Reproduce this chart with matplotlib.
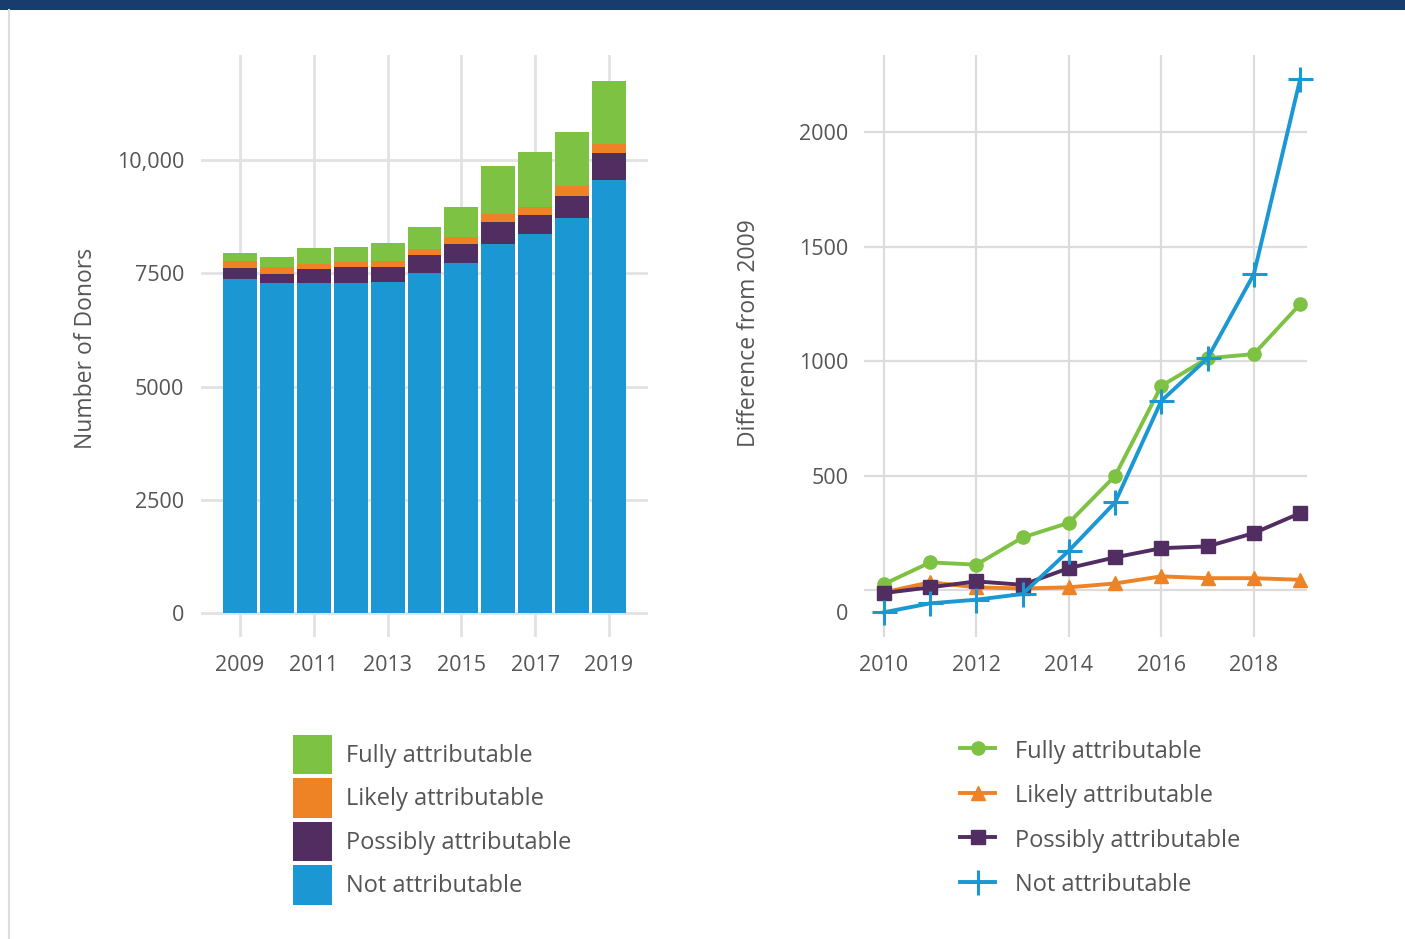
import numpy as np
import matplotlib
matplotlib.use('Agg')
import matplotlib.pyplot as plt
from matplotlib.patches import Patch, Rectangle
from matplotlib.lines import Line2D
from matplotlib.transforms import ScaledTranslation

plt.rcParams['font.family'] = ['Open Sans', 'DejaVu Sans']

# ---- data: left panel (stacked counts) ----
years = np.arange(2009, 2020)
not_attr = [7375, 7287, 7287, 7287, 7308, 7507, 7728, 8147, 8368, 8721, 9559]
possibly = [242, 198, 308, 353, 332, 397, 419, 485, 419, 485, 596]
likely = [155, 155, 118, 117, 132, 133, 155, 184, 177, 228, 205]
fully = [176, 220, 347, 324, 398, 486, 662, 1052, 1213, 1184, 1383]

# ---- data: right panel (difference from 2009) ----
years_diff = np.arange(2010, 2020)
fully_diff = [26, 121, 111, 230, 294, 499, 892, 1013, 1031, 1249]
likely_diff = [-10, 34, 12, 7, 12, 29, 60, 52, 52, 45]
possibly_diff = [-13, 12, 38, 23, 96, 143, 183, 191, 249, 336]
not_diff = [-97, -58, -42, -17, 172, 383, 827, 1013, 1380, 2231]

labels = ['Fully attributable', 'Likely attributable', 'Possibly attributable', 'Not attributable']
GREEN, ORANGE, PURPLE, BLUE = '#7DC242', '#EE8325', '#522D62', '#1B97D4'
GRID = '#e2e2e2'
TXT = '#555555'

fig = plt.figure(figsize=(14.05, 9.39), dpi=100)

# top banner + left rule
fig.patches.append(Rectangle((0, 1 - 10 / 939), 1, 10 / 939, transform=fig.transFigure,
                             facecolor='#173D6E', edgecolor='none'))
fig.lines.append(Line2D([8.5 / 1405, 8.5 / 1405], [0, 1 - 10 / 939], transform=fig.transFigure,
                        color='#dddddd', lw=1.5))

# ============= LEFT: stacked bars =============
ax1 = fig.add_axes([201 / 1405, 1 - 637 / 939, 447 / 1405, 582 / 939])
b = np.zeros(len(years))
for vals, col in [(not_attr, BLUE), (possibly, PURPLE), (likely, ORANGE), (fully, GREEN)]:
    ax1.bar(years, vals, bottom=b, width=0.92, color=col, zorder=3)
    b = b + np.array(vals)

ax1.set_xlim(2007.94, 2020.06)
ax1.set_ylim(-523, 12316)
ax1.set_yticks([0, 2500, 5000, 7500, 10000])
ax1.set_yticklabels(['0', '2500', '5000', '7500', '10,000'])
ax1.set_xticks([2009, 2011, 2013, 2015, 2017, 2019])
ax1.set_xticklabels(['2009', '2011', '2013', '2015', '2017', '2019'])
ax1.grid(True, color=GRID, lw=2, zorder=0)
ax1.tick_params(length=0, labelsize=15.5, colors=TXT)
ax1.tick_params(axis='x', pad=13)
ax1.tick_params(axis='y', pad=12)
for s in ax1.spines.values():
    s.set_visible(False)
ax1.set_ylabel('Number of Donors', fontsize=16.5, color=TXT)
ax1.yaxis.set_label_coords((98 - 201) / 447, (637 - 348) / 582)

leg1 = fig.legend(handles=[Patch(facecolor=c, edgecolor='none') for c in [GREEN, ORANGE, PURPLE, BLUE]],
                  labels=labels, loc='upper left', bbox_to_anchor=(293 / 1405, 1 - 735 / 939),
                  frameon=False, fontsize=17, handlelength=1.65, handleheight=2.165,
                  labelspacing=0.19, handletextpad=0.6, borderaxespad=0, borderpad=0)
for t in leg1.get_texts():
    t.set_color(TXT)

# ============= RIGHT: difference lines =============
ax2 = fig.add_axes([864 / 1405, 1 - 637 / 939, 443 / 1405, 582 / 939])
ax2.plot(years_diff, fully_diff, color=GREEN, lw=2.8, marker='o', ms=9.5, zorder=3, clip_on=False)
ax2.plot(years_diff, likely_diff, color=ORANGE, lw=2.8, marker='^', ms=10.5, zorder=4, clip_on=False)
ax2.plot(years_diff, possibly_diff, color=PURPLE, lw=2.8, marker='s', ms=9.5, zorder=5, clip_on=False)
ax2.plot(years_diff, not_diff, color=BLUE, lw=2.8, marker='+', ms=18, mew=2.2, zorder=6, clip_on=False)

ax2.set_xlim(2009.57, 2019.15)
ax2.set_ylim(-205, 2338)
ax2.set_yticks([0, 500, 1000, 1500, 2000])
ax2.set_xticks([2010, 2012, 2014, 2016, 2018])
ax2.grid(True, color='#dcdcdc', lw=1.6, zorder=0)
ax2.tick_params(length=0, labelsize=15.5, colors=TXT)
ax2.tick_params(axis='x', pad=13)
ax2.tick_params(axis='y', pad=11)
for s in ax2.spines.values():
    s.set_visible(False)
ax2.set_ylabel('Difference from 2009', fontsize=16.5, color=TXT)
ax2.yaxis.set_label_coords((761 - 864) / 443, (637 - 333) / 582)
# the "0" label sits a bit below its gridline in the original
lab0 = ax2.get_yticklabels()[0]
lab0.set_transform(lab0.get_transform() + ScaledTranslation(0, -22 / 100, fig.dpi_scale_trans))

handles2 = [Line2D([], [], color=GREEN, lw=2.8, marker='o', ms=9.5),
            Line2D([], [], color=ORANGE, lw=2.8, marker='^', ms=10.5),
            Line2D([], [], color=PURPLE, lw=2.8, marker='s', ms=9.5),
            Line2D([], [], color=BLUE, lw=2.8, marker='+', ms=18, mew=2.2)]
leg2 = fig.legend(handles=handles2, labels=labels, loc='upper left',
                  bbox_to_anchor=(960 / 1405, 1 - 739 / 939), frameon=False, fontsize=17,
                  handlelength=1.5, handleheight=1.0, labelspacing=0.84, handletextpad=0.85,
                  borderaxespad=0, borderpad=0)
for t in leg2.get_texts():
    t.set_color(TXT)

fig.savefig('out.png', dpi=100, facecolor='white')
